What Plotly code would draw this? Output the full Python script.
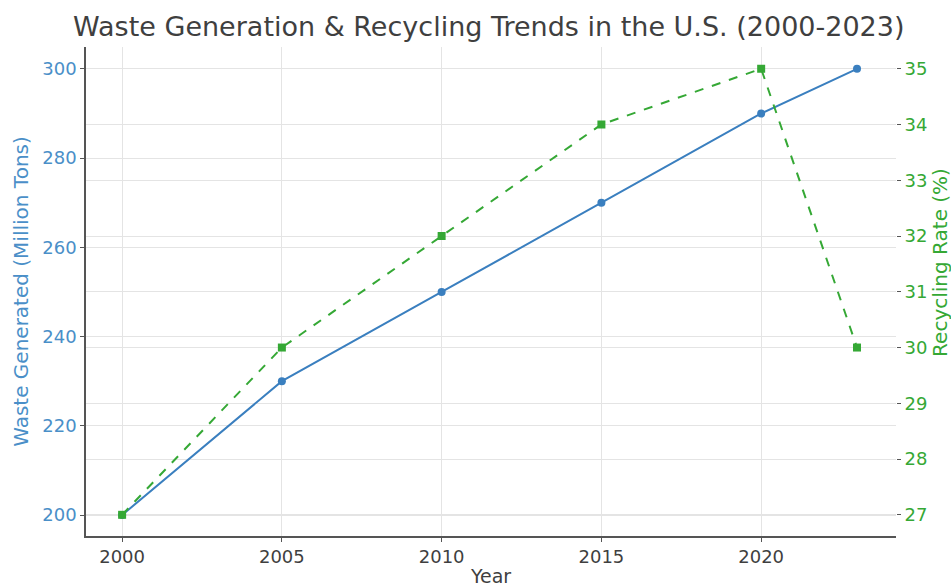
import plotly.graph_objects as go

years = [2000, 2005, 2010, 2015, 2020, 2023]
waste_generated = [200, 230, 250, 270, 290, 300]
recycling_rate = [27, 30, 32, 34, 35, 30]
x_ticks = [2000, 2005, 2010, 2015, 2020]
left_ticks = [200, 220, 240, 260, 280, 300]
right_ticks = [27, 28, 29, 30, 31, 32, 33, 34, 35]

blue = "#3a7fbf"
tick_blue = "#4a8fc8"
green = "#35a835"
font = "DejaVu Sans"

fig = go.Figure()
fig.add_trace(go.Scatter(
    x=years, y=waste_generated, mode="lines+markers", name="Waste Generated",
    line=dict(color=blue, width=2), marker=dict(symbol="circle", size=8, color=blue),
    yaxis="y"))
fig.add_trace(go.Scatter(
    x=years, y=recycling_rate, mode="lines+markers", name="Recycling Rate",
    line=dict(color=green, width=2, dash="dash"), marker=dict(symbol="square", size=8, color=green),
    yaxis="y2"))

fig.update_layout(
    width=951, height=587,
    margin=dict(l=86, r=55, t=47, b=51),
    paper_bgcolor="white", plot_bgcolor="white",
    showlegend=False,
    font=dict(family=font, size=18, color="#333"),
    title=dict(text="Waste Generation & Recycling Trends in the U.S. (2000-2023)",
               x=0.514, xanchor="center", y=0.954, yanchor="middle",
               font=dict(family=font, size=27, color="#3f3f3f")),
    xaxis=dict(
        range=[1998.87, 2024.22], tickvals=x_ticks, showgrid=True, gridcolor="#e4e4e4",
        showline=True, linecolor="#555", linewidth=1.5, ticks="outside", ticklen=4,
        tickcolor="#555", zeroline=False, automargin=False,
        title=dict(text="Year", font=dict(size=19, color="#3f3f3f"), standoff=6),
        tickfont=dict(size=18, color="#3f3f3f")),
    yaxis=dict(
        range=[195.3, 304.9], tickvals=left_ticks, showgrid=True, gridcolor="#e4e4e4",
        showline=True, linecolor="#555", linewidth=1.5, ticks="outside", ticklen=4,
        tickcolor="#555", zeroline=False, automargin=False,
        title=dict(text="Waste Generated (Million Tons)", font=dict(size=20, color=tick_blue), standoff=8),
        tickfont=dict(size=18, color=tick_blue)),
    yaxis2=dict(
        range=[26.62, 35.39], tickvals=right_ticks, overlaying="y", side="right",
        showgrid=True, gridcolor="#e4e4e4", showline=False, ticks="outside", ticklen=4,
        tickcolor="#555", zeroline=False, automargin=False,
        tickfont=dict(size=18, color=green)),
    annotations=[dict(
        text="Recycling Rate (%)", textangle=-90, showarrow=False,
        xref="paper", yref="paper", x=1.054, y=0.56, xanchor="center", yanchor="middle",
        font=dict(family=font, size=20, color=green))],
)

fig.write_html("out.html")
